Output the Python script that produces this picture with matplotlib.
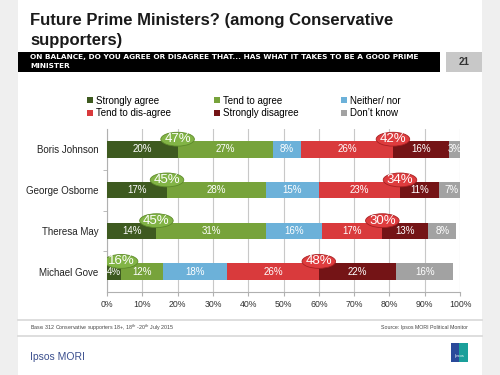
import numpy as np
import matplotlib.pyplot as plt
from matplotlib.patches import Rectangle, Ellipse

plt.rcParams['font.family'] = ['Liberation Sans', 'DejaVu Sans']

# data
people = ["Boris Johnson", "George Osborne", "Theresa May", "Michael Gove"]
categories = ["Strongly agree", "Tend to agree", "Neither/ nor",
              "Tend to dis-agree", "Strongly disagree", "Don\u2019t know"]
strongly_agree = [20, 17, 14, 4]
tend_agree = [27, 28, 31, 12]
neither = [8, 15, 16, 18]
tend_disagree = [26, 23, 17, 26]
strongly_disagree = [16, 11, 13, 22]
dont_know = [3, 7, 8, 16]
total_agree = [47, 45, 45, 16]
total_disagree = [42, 34, 30, 48]

colors = ["#3e5a20", "#77a33b", "#6cb1d9", "#d93a3c", "#741416", "#a2a2a2"]

fig = plt.figure(figsize=(5, 3.75), dpi=100)
fig.patch.set_facecolor("#efefef")

# white slide
fig.add_artist(Rectangle((18 / 500, 0), 464 / 500, 1, transform=fig.transFigure,
                         facecolor="white", edgecolor="none", zorder=0))

def fy(y):
    return 1 - y / 375

fig.text(30 / 500, fy(21), "Future Prime Ministers? (among Conservative",
         fontsize=12, fontweight="bold", color="#1a1a1a", va="center", ha="left")
fig.text(30 / 500, fy(41), "supporters)",
         fontsize=12, fontweight="bold", color="#1a1a1a", va="center", ha="left")
fig.add_artist(Rectangle((18 / 500, fy(72)), 422 / 500, 20 / 375, transform=fig.transFigure,
                         facecolor="black", edgecolor="none"))
fig.text(30 / 500, fy(57.5), "ON BALANCE, DO YOU AGREE OR DISAGREE THAT... HAS WHAT IT TAKES TO BE A GOOD PRIME",
         fontsize=5.3, fontweight="bold", color="white", va="center", ha="left",
         family=["DejaVu Sans"])
fig.text(30 / 500, fy(66), "MINISTER",
         fontsize=5.3, fontweight="bold", color="white", va="center", ha="left",
         family=["DejaVu Sans"])
fig.add_artist(Rectangle((446 / 500, fy(72)), 36 / 500, 20 / 375, transform=fig.transFigure,
                         facecolor="#c8c8c8", edgecolor="none"))
fig.text(464 / 500, fy(62), "21", fontsize=7, fontweight="bold", color="#333333",
         ha="center", va="center")

ax = fig.add_axes([107 / 500, fy(292), 353 / 500, 163 / 375])
series = [strongly_agree, tend_agree, neither, tend_disagree, strongly_disagree, dont_know]
y = np.arange(len(people))
left = np.zeros(len(people))
ends = []
for vals, col, lab in zip(series, colors, categories):
    vals = np.array(vals, dtype=float)
    ax.barh(y, vals, left=left, height=0.4, color=col, label=lab, zorder=3)
    for yi, l, v in zip(y, left, vals):
        ax.text(l + v / 2, yi, f"{int(v)}%", color="white", fontsize=7,
                ha="center", va="center", zorder=4)
    left = left + vals
    ends.append(left.copy())

# callout ellipses
for yi in y:
    for xc, val, fc, ec in [(ends[0][yi], total_agree[yi], "#82b446", "#5d8a2a"),
                            (ends[3][yi], total_disagree[yi], "#de3c3e", "#a82022")]:
        ax.add_patch(Ellipse((xc, yi - 0.25), 9.5, 0.34, facecolor=fc, edgecolor=ec,
                             linewidth=0.6, zorder=5))
        ax.text(xc, yi - 0.25, f"{val}%", color="white", fontsize=9.5,
                ha="center", va="center", zorder=6)

ax.set_xlim(0, 100)
ax.set_ylim(3.5, -0.5)
ax.set_xticks(np.arange(0, 101, 10))
ax.set_xticklabels([f"{v}%" for v in range(0, 101, 10)], fontsize=6.3, color="#333333")
ax.set_yticks(y)
ax.set_yticklabels(people, fontsize=7, color="#222222")
ax.set_yticks([0.5, 1.5, 2.5], minor=True)
ax.tick_params(axis="y", which="major", length=0, pad=6)
ax.tick_params(axis="y", which="minor", length=3, color="#b0b0b0")
ax.tick_params(axis="x", length=3, color="#b0b0b0", pad=3)
ax.grid(axis="x", color="#c8c8c8", linewidth=0.8, zorder=0)
for s in ["top", "right"]:
    ax.spines[s].set_visible(False)
for s in ["left", "bottom"]:
    ax.spines[s].set_color("#b0b0b0")

handles, labels = ax.get_legend_handles_labels()
order = [0, 3, 1, 4, 2, 5]
fig.legend([handles[i] for i in order], [labels[i] for i in order],
           loc="center", bbox_to_anchor=(244 / 500, fy(107)), ncol=3, frameon=False,
           fontsize=7, handlelength=0.6, handleheight=0.6, handletextpad=0.3,
           columnspacing=4.4, labelspacing=0.3)

# footer
fig.add_artist(plt.Line2D([18 / 500, 482 / 500], [fy(320), fy(320)], transform=fig.transFigure,
                          color="#d8d8d8", linewidth=1.2))
fig.add_artist(plt.Line2D([18 / 500, 482 / 500], [fy(336), fy(336)], transform=fig.transFigure,
                          color="#d8d8d8", linewidth=1.2))
fig.text(30 / 500, fy(328), "Base: 312 Conservative supporters 18+, 18$^{th}$ -20$^{th}$ July 2015",
         fontsize=3.8, color="#444444", va="center", ha="left")
fig.text(468 / 500, fy(328), "Source: Ipsos MORI Political Monitor",
         fontsize=3.8, color="#444444", va="center", ha="right")
fig.text(30 / 500, fy(357), "Ipsos MORI", fontsize=7.5, color="#3b4f8e",
         va="center", ha="left")
fig.add_artist(Rectangle((451 / 500, fy(362)), 17 / 500, 19 / 375, transform=fig.transFigure,
                         facecolor="#2a4a9a", edgecolor="none"))
fig.add_artist(Rectangle((459 / 500, fy(362)), 9 / 500, 19 / 375, transform=fig.transFigure,
                         facecolor="#1a9f9a", edgecolor="none"))
fig.text(459.5 / 500, fy(356), "Ipsos", fontsize=3, color="white", ha="center", va="center")

fig.savefig("out.png", dpi=100, facecolor=fig.get_facecolor())
